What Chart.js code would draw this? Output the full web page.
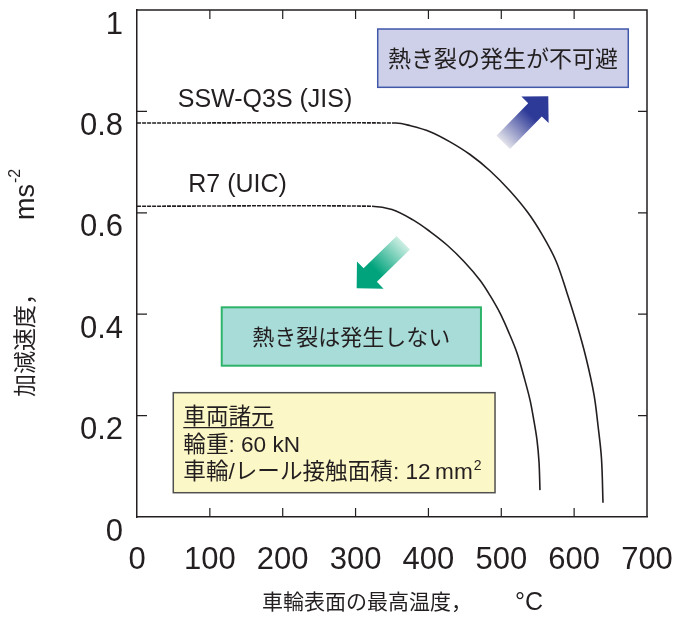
<!DOCTYPE html>
<html>
<head>
<meta charset="utf-8">
<script src="https://cdn.jsdelivr.net/npm/chart.js@4.4.1/dist/chart.umd.min.js"></script>
<style>
  body { margin: 0; background: #fff; }
</style>
</head>
<body>
<canvas id="c" width="676" height="620"></canvas>
<script>
// 車輪表面の最高温度 (°C) と 加減速度 (m/s²) の限界線 — 図から読み取った値
const sswTemp = [0, 355.5, 374.7, 402.2, 429.6, 457.1, 484.5, 512.0, 536.7, 557.3, 575.1, 590.2, 603.9, 616.3, 627.3, 632.7, 637.5, 639.6];
const sswAcc  = [0.777, 0.777, 0.772, 0.760, 0.740, 0.715, 0.683, 0.643, 0.600, 0.554, 0.505, 0.442, 0.379, 0.314, 0.241, 0.181, 0.116, 0.028];
const r7Temp  = [0, 322.5, 350.0, 378.8, 402.2, 425.5, 448.8, 470.8, 484.5, 498.3, 510.6, 521.6, 531.2, 539.4, 544.9, 549.0, 551.8, 553.1];
const r7Acc   = [0.613, 0.613, 0.6065, 0.586, 0.563, 0.5365, 0.504, 0.467, 0.437, 0.402, 0.363, 0.3235, 0.276, 0.231, 0.189, 0.152, 0.108, 0.053];
const curveNames = ['SSW-Q3S (JIS)', 'R7 (UIC)'];
const xTickLabels = ['0', '100', '200', '300', '400', '500', '600', '700'];
const yTickLabels = ['0', '0.2', '0.4', '0.6', '0.8', '1'];

const INK = '#231f20';
const LATIN = '"Liberation Sans", Arial, sans-serif';
const JP = '"Liberation Sans", "Noto Sans CJK JP", sans-serif';

// 注記の位置（データ座標）
const notes = {
  hotBox:   { x1: 330.4, y1: 0.9625, x2: 674.3, y2: 0.8475, text: '熱き裂の発生が不可避' },
  safeBox:  { x1: 116.3, y1: 0.4136, x2: 472.1, y2: 0.2984, text: '熱き裂は発生しない' },
  specBox:  { x1: 49.8,  y1: 0.2452, x2: 491.4, y2: 0.0479 },
  upArrow:  { tail: [502.7, 0.739], tip: [564.5, 0.830] },
  downArrow:{ tail: [365.5, 0.541], tip: [301.5, 0.451] },
  sswLabel: [175.7, 0.809],
  r7Label:  [138, 0.6416]
};

const toPoints = (xs, ys) => xs.map((v, i) => ({ x: v, y: ys[i] }));

function drawBox(ctx, x1, y1, x2, y2, fill, stroke, lw) {
  ctx.fillStyle = fill;
  ctx.fillRect(x1, y1, x2 - x1, y2 - y1);
  ctx.strokeStyle = stroke;
  ctx.lineWidth = lw;
  ctx.strokeRect(x1, y1, x2 - x1, y2 - y1);
}

function drawArrow(ctx, tail, tip, c0, c1) {
  const dx = tip[0] - tail[0], dy = tip[1] - tail[1];
  const len = Math.hypot(dx, dy);
  const ux = dx / len, uy = dy / len, nx = -uy, ny = ux;
  const bw = 9.5, hw = 19, hl = 19;
  const nk = [tip[0] - ux * hl, tip[1] - uy * hl];
  const g = ctx.createLinearGradient(tail[0], tail[1], tail[0] + ux * len * 0.6, tail[1] + uy * len * 0.6);
  g.addColorStop(0, c0);
  g.addColorStop(1, c1);
  ctx.fillStyle = g;
  ctx.beginPath();
  ctx.moveTo(tail[0] + nx * bw, tail[1] + ny * bw);
  ctx.lineTo(nk[0] + nx * bw, nk[1] + ny * bw);
  ctx.lineTo(nk[0] + nx * hw, nk[1] + ny * hw);
  ctx.lineTo(tip[0], tip[1]);
  ctx.lineTo(nk[0] - nx * hw, nk[1] - ny * hw);
  ctx.lineTo(nk[0] - nx * bw, nk[1] - ny * bw);
  ctx.lineTo(tail[0] - nx * bw, tail[1] - ny * bw);
  ctx.closePath();
  ctx.fill();
}

const overlay = {
  id: 'overlay',
  afterDraw(chart) {
    const { ctx, chartArea: a, scales: { x, y } } = chart;
    const X = v => x.getPixelForValue(v);
    const Y = v => y.getPixelForValue(v);
    ctx.save();

    // 枠（上・右）と内向きの目盛
    ctx.strokeStyle = INK;
    ctx.lineWidth = 1.5;
    ctx.beginPath();
    ctx.moveTo(a.left, a.top); ctx.lineTo(a.right, a.top); ctx.lineTo(a.right, a.bottom);
    ctx.stroke();
    ctx.lineWidth = 1.2;
    ctx.beginPath();
    x.ticks.forEach(t => {
      if (t.value <= 0 || t.value >= 700) return;
      const px = X(t.value);
      ctx.moveTo(px, a.bottom); ctx.lineTo(px, a.bottom - 9);
      ctx.moveTo(px, a.top); ctx.lineTo(px, a.top + 9);
    });
    y.ticks.forEach(t => {
      if (t.value <= 0 || t.value >= 1) return;
      const py = Y(t.value);
      ctx.moveTo(a.left, py); ctx.lineTo(a.left + 10, py);
      ctx.moveTo(a.right, py); ctx.lineTo(a.right - 9, py);
    });
    ctx.stroke();

    // 曲線名
    ctx.fillStyle = INK;
    ctx.font = '25px ' + LATIN;
    ctx.textAlign = 'center';
    ctx.textBaseline = 'alphabetic';
    ctx.fillText(curveNames[0], X(notes.sswLabel[0]), Y(notes.sswLabel[1]));
    ctx.fillText(curveNames[1], X(notes.r7Label[0]), Y(notes.r7Label[1]));

    // 注記の箱
    let b = notes.hotBox;
    drawBox(ctx, X(b.x1), Y(b.y1), X(b.x2), Y(b.y2), '#cdd0e8', '#4157aa', 1.5);
    ctx.fillStyle = INK;
    ctx.font = '23px ' + JP;
    ctx.textBaseline = 'middle';
    ctx.fillText(b.text, (X(b.x1) + X(b.x2)) / 2, (Y(b.y1) + Y(b.y2)) / 2 + 2);

    b = notes.safeBox;
    drawBox(ctx, X(b.x1), Y(b.y1), X(b.x2), Y(b.y2), '#a8dcd8', '#2eb46a', 2);
    ctx.fillStyle = INK;
    ctx.font = '22px ' + JP;
    ctx.fillText(b.text, (X(b.x1) + X(b.x2)) / 2, (Y(b.y1) + Y(b.y2)) / 2 + 2);

    b = notes.specBox;
    drawBox(ctx, X(b.x1), Y(b.y1), X(b.x2), Y(b.y2), '#fcf7c6', '#505050', 1.5);
    ctx.fillStyle = INK;
    ctx.textAlign = 'left';
    ctx.textBaseline = 'alphabetic';
    const tx = X(b.x1) + 10, ty = Y(b.y1);
    ctx.font = '22.6px ' + JP;
    ctx.fillText('車両諸元', tx, ty + 31.5);
    const uw = ctx.measureText('車両諸元').width;
    ctx.lineWidth = 1.2;
    ctx.strokeStyle = INK;
    ctx.beginPath();
    ctx.moveTo(tx, ty + 35); ctx.lineTo(tx + uw, ty + 35);
    ctx.stroke();
    ctx.fillText('輪重: 60 kN', tx, ty + 59);
    const line3 = '車輪/レール接触面積: 12\u2009mm';
    ctx.fillText(line3, tx, ty + 86.5);
    const w3 = ctx.measureText(line3).width;
    ctx.font = '14px ' + LATIN;
    ctx.fillText('2', tx + w3 + 1, ty + 77);

    // 矢印
    let ar = notes.upArrow;
    drawArrow(ctx, [X(ar.tail[0]), Y(ar.tail[1])], [X(ar.tip[0]), Y(ar.tip[1])], '#e2e2ea', '#2e3a98');
    ar = notes.downArrow;
    drawArrow(ctx, [X(ar.tail[0]), Y(ar.tail[1])], [X(ar.tip[0]), Y(ar.tip[1])], '#cdeee3', '#00a37c');

    // 軸タイトル
    ctx.fillStyle = INK;
    ctx.textAlign = 'left';
    ctx.textBaseline = 'middle';
    ctx.font = '21px ' + JP;
    ctx.fillText('車輪表面の最高温度，', 262, 603);
    ctx.font = '25px ' + LATIN;
    ctx.fillText('°C', 515, 603);

    ctx.translate(27, 397);
    ctx.rotate(-Math.PI / 2);
    ctx.font = '23px ' + JP;
    const yt = '加減速度，';
    ctx.fillText(yt, 0, 0);
    const yw = ctx.measureText(yt).width;
    ctx.font = '27px ' + LATIN;
    ctx.fillText('ms', yw + 62, 0);
    const mw = ctx.measureText('ms').width;
    ctx.font = '16px ' + LATIN;
    ctx.fillText('-2', yw + 62 + mw + 1, -11);
    ctx.restore();
  }
};

const lineStyle = {
  showLine: true,
  borderColor: INK,
  borderWidth: 1.6,
  pointRadius: 0,
  tension: 0.35,
  segment: { borderDash: c => c.p0DataIndex === 0 ? [4, 1] : undefined }
};

new Chart(document.getElementById('c'), {
  type: 'scatter',
  data: {
    datasets: [
      Object.assign({ label: curveNames[0], data: toPoints(sswTemp, sswAcc) }, lineStyle),
      Object.assign({ label: curveNames[1], data: toPoints(r7Temp, r7Acc) }, lineStyle)
    ]
  },
  options: {
    responsive: false,
    animation: false,
    layout: { padding: { top: 10, right: 29, left: 0, bottom: 0 } },
    plugins: { legend: { display: false }, tooltip: { enabled: false } },
    scales: {
      x: {
        type: 'linear', min: 0, max: 700,
        ticks: {
          stepSize: 100, color: INK, padding: 25, maxRotation: 0,
          font: { family: LATIN, size: 31 },
          callback: (v, i) => xTickLabels[i]
        },
        grid: { display: false, drawTicks: false },
        border: { color: INK, width: 1.5 },
        afterFit: s => { s.height = 103; s.paddingLeft = 0; s.paddingRight = 0; }
      },
      y: {
        min: 0, max: 1,
        ticks: {
          stepSize: 0.2, color: INK, padding: 14, labelOffset: 15,
          font: { family: LATIN, size: 31 },
          callback: (v, i) => yTickLabels[i]
        },
        grid: { display: false, drawTicks: false },
        border: { color: INK, width: 1.5 },
        afterFit: s => { s.width = 137; s.paddingTop = 0; s.paddingBottom = 0; }
      }
    }
  },
  plugins: [overlay]
});
</script>
</body>
</html>
